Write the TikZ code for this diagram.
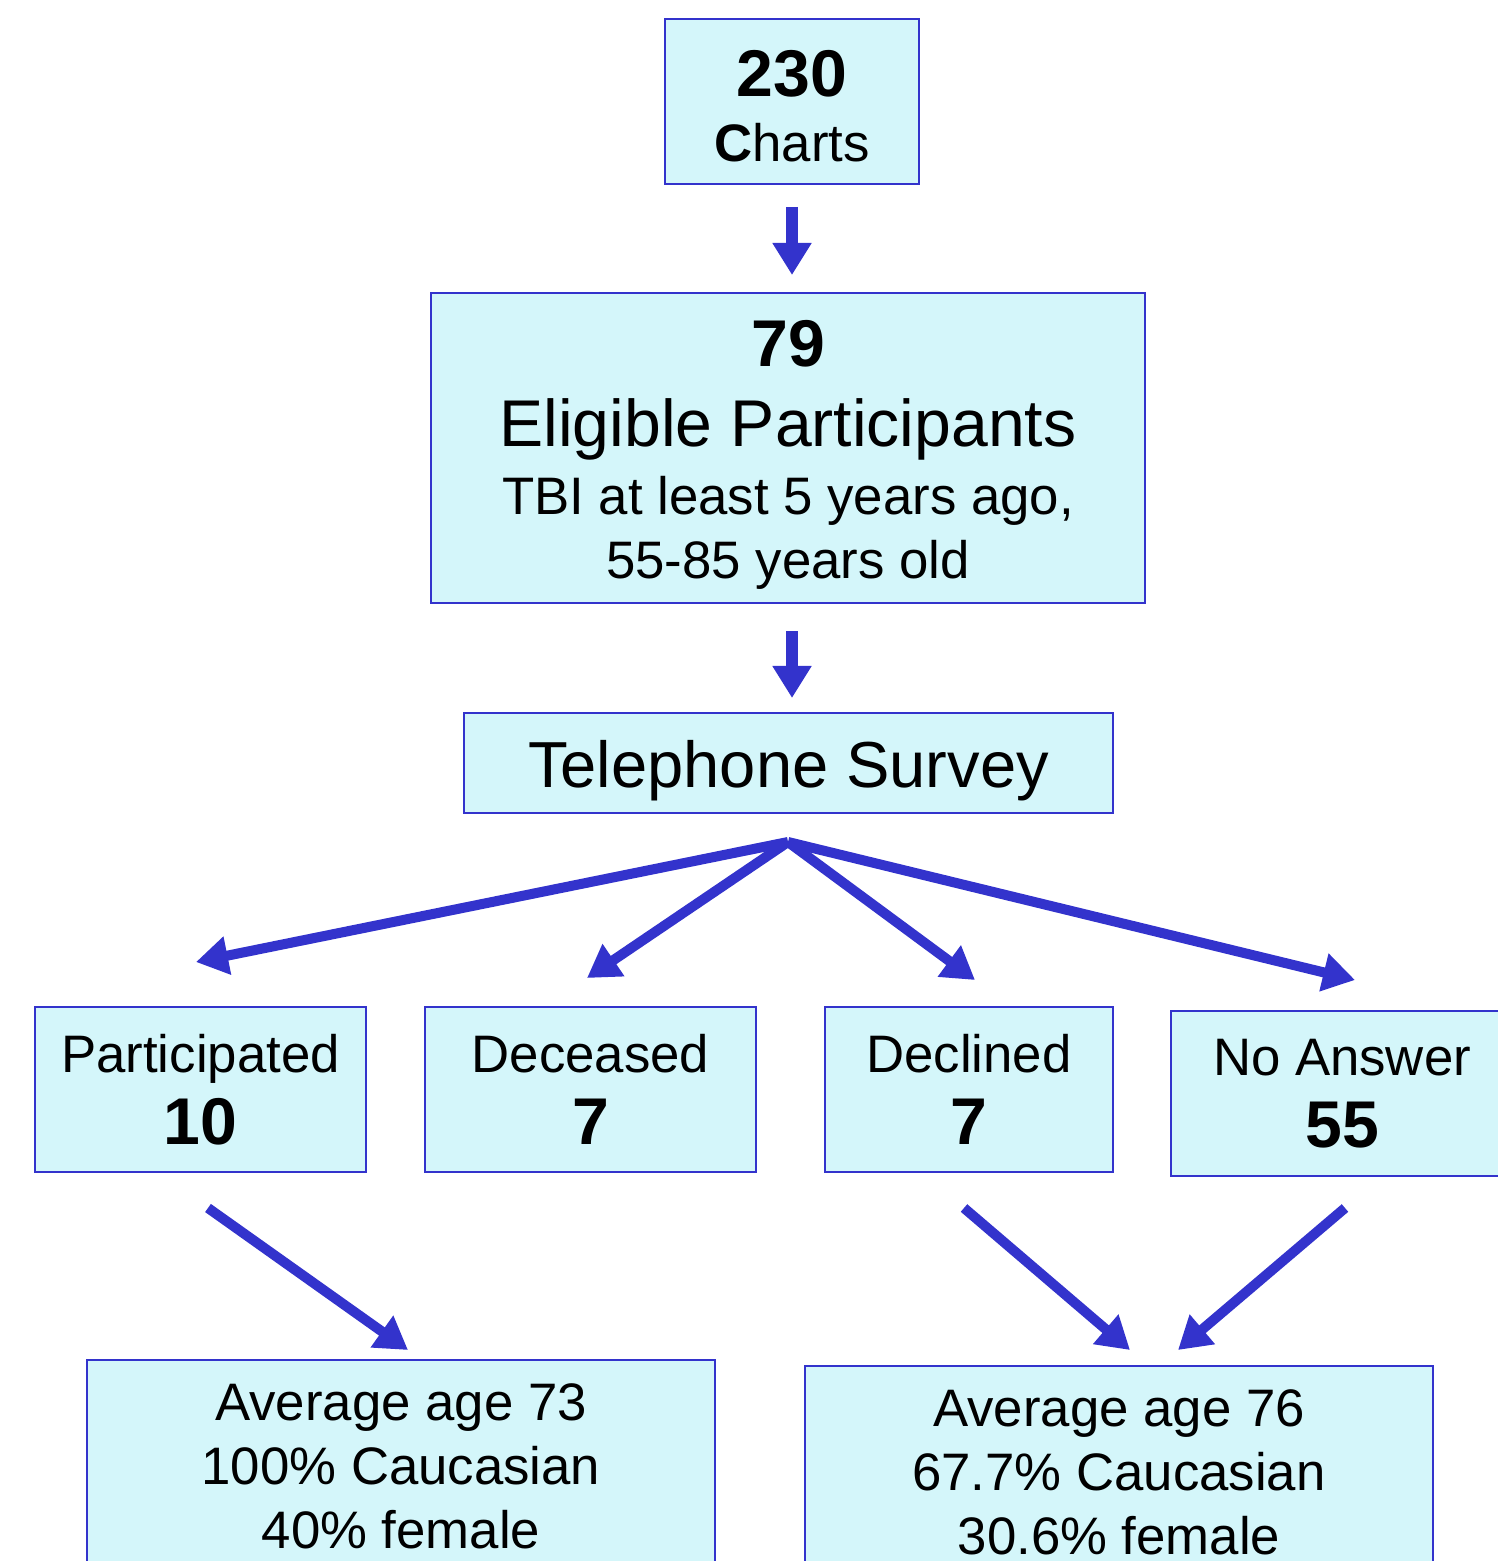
\documentclass[tikz,border=0pt]{standalone}
\usepackage{fontspec}                 % polices système
\setmainfont{Liberation Sans}         % équivalent Arial
\usepackage{tikz}
\usetikzlibrary{arrows.meta,          % pointes de flèches
           positioning}
\definecolor{bf}{RGB}{51,51,204}      % bleu des flèches et des bords
\definecolor{cf}{RGB}{212,246,250}    % cyan du fond des boîtes
\newcommand{\gros}{\fontsize{18.8}{22}\selectfont}
\tikzset{boite/.style={draw=bf, line width=0.6pt, fill=cf, inner sep=0pt, align=center,
                       font=\fontsize{15}{18.2}\selectfont},
         fleche/.style={bf, line width=0.1cm, -{Triangle[length=0.32cm,width=0.37cm]}}}

\begin{document}
\begin{tikzpicture}[x=0.01cm,y=-0.01cm]
\useasboundingbox (0,0) rectangle (1498,1561);
\node[boite, minimum width=2.54cm, minimum height=1.65cm](charts) at (792,101.5)
     {\rule{0pt}{0.56cm}{\gros\bfseries 230}\\[0.01cm] \textbf{C}harts};
\node[boite, minimum width=7.14cm, minimum height=3.10cm](elig) at (788,448)
     {\rule{0pt}{0.6cm}{\gros\bfseries 79}\\[0.16cm] {\gros Eligible Participants}\\[0.04cm] TBI at least 5 years ago,\\ 55-85 years old};
\node[boite, minimum width=6.49cm, minimum height=1.00cm, font=\fontsize{18.5}{22}\selectfont](tel) at (788.5,763)
     {\rule{0pt}{0.62cm}Telephone Survey};
\node[boite, minimum width=3.31cm, minimum height=1.65cm](part) at (200.5,1089.5)
     {Participated\\[0.08cm] {\gros\bfseries 10}};
\node[boite, minimum width=3.31cm, minimum height=1.65cm](dec) at (590.5,1089.5)
     {Deceased\\[0.08cm] {\gros\bfseries 7}};
\node[boite, minimum width=2.88cm, minimum height=1.65cm](decl) at (969,1089.5)
     {Declined\\[0.08cm] {\gros\bfseries 7}};
\node[boite, minimum width=3.42cm, minimum height=1.65cm](noans) at (1342,1093.5)
     {No Answer\\[0.08cm] {\gros\bfseries 55}};
\node[boite, minimum width=6.28cm, minimum height=2.12cm](moyA) at (401,1466)
     {Average age 73\\ 100\% Caucasian\\ 40\% female};
\node[boite, minimum width=6.28cm, minimum height=2.12cm](moyB) at (1119,1472)
     {Average age 76\\ 67.7\% Caucasian\\ 30.6\% female};
\coordinate (c1) at (792,207);  \coordinate (c2) at (792,275);
\coordinate (e1) at (792,631);  \coordinate (e2) at (792,698);
\coordinate (t0) at (788,842);
\coordinate (tp) at (196,962);  \coordinate (td) at (587,978);
\coordinate (tc) at (975,980);  \coordinate (tn) at (1355,980);
\coordinate (p1) at (208,1208); \coordinate (p2) at (408,1350);
\coordinate (d1) at (964,1208); \coordinate (d2) at (1130,1350);
\coordinate (n1) at (1345,1208);\coordinate (n2) at (1178,1350);
\draw[fleche, line width=0.12cm](c1) -- (c2);
\draw[fleche, line width=0.12cm](e1) -- (e2);
\foreach \t in {tp,td,tc,tn}
  \draw[fleche](t0) -- (\t);
\draw[fleche](p1) -- (p2);
\draw[fleche](d1) -- (d2);
\draw[fleche](n1) -- (n2);
\end{tikzpicture}
\end{document}
